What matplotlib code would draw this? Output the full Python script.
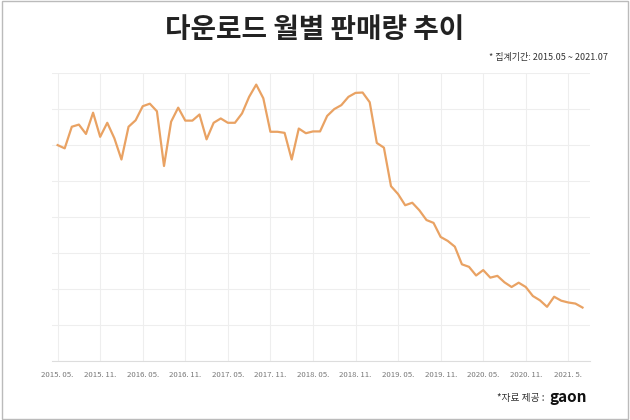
import matplotlib
matplotlib.use("Agg")
import matplotlib.pyplot as plt
from matplotlib.patches import Rectangle

months = list(range(75))
values = [6.00,5.91,6.51,6.57,6.31,6.90,6.23,6.62,6.19,5.60,6.51,6.69,7.08,7.15,6.94,5.42,6.65,7.04,6.68,6.68,
          6.85,6.16,6.62,6.74,6.62,6.62,6.88,7.34,7.68,7.30,6.37,6.37,6.34,5.60,6.46,6.33,6.38,6.38,6.81,7.00,
          7.11,7.34,7.45,7.46,7.19,6.06,5.93,4.86,4.64,4.33,4.40,4.19,3.92,3.84,3.45,3.34,3.18,2.69,2.62,2.38,
          2.53,2.32,2.37,2.19,2.06,2.18,2.06,1.81,1.69,1.51,1.79,1.68,1.63,1.60,1.49]
tick_pos = [0,6,12,18,24,30,36,42,48,54,60,66,72]
tick_labels = ["2015. 05.","2015. 11.","2016. 05.","2016. 11.","2017. 05.","2017. 11.","2018. 05.",
               "2018. 11.","2019. 05.","2019. 11.","2020. 05.","2020. 11.","2021. 5."]

plt.rcParams["font.family"] = ["Noto Sans CJK KR","Noto Sans CJK JP","Noto Sans CJK SC","DejaVu Sans"]
fig = plt.figure(figsize=(6.3,4.2), dpi=100)
fig.patches.append(Rectangle((0.003,0.003),0.994,0.994,transform=fig.transFigure,fill=False,ec="#bbbbbb",lw=1))
ax = fig.add_axes([0.083,0.140,0.854,0.686])
ax.plot(months, values, color="#E9A263", lw=1.6)
ax.set_xlim(-0.75,75.1)
ax.set_ylim(0,8)
ax.set_yticks(range(9))
ax.set_yticklabels([])
ax.tick_params(axis="y", length=0)
ax.set_xticks(tick_pos)
ax.set_xticklabels(tick_labels, fontsize=5.6, color="#777777")
ax.tick_params(axis="x", length=0, pad=7)
ax.grid(True, color="#eeeeee", lw=0.8)
for s in ["top","right","left"]:
    ax.spines[s].set_visible(False)
ax.spines["bottom"].set_color("#dddddd")
fig.text(0.5,0.928,"다운로드 월별 판매량 추이",ha="center",va="center",fontsize=20,fontweight="bold",color="#222222")
fig.text(0.965,0.862,"* 집계기간: 2015.05 ~ 2021.07",ha="right",va="center",fontsize=6.5,color="#333333")
fig.text(0.865,0.052,"*자료 제공 :",ha="right",va="center",fontsize=7,color="#333333")
fig.text(0.872,0.055,"gaon",ha="left",va="center",fontsize=11,fontweight="bold",color="#111111")
fig.savefig("out.png", dpi=100)
